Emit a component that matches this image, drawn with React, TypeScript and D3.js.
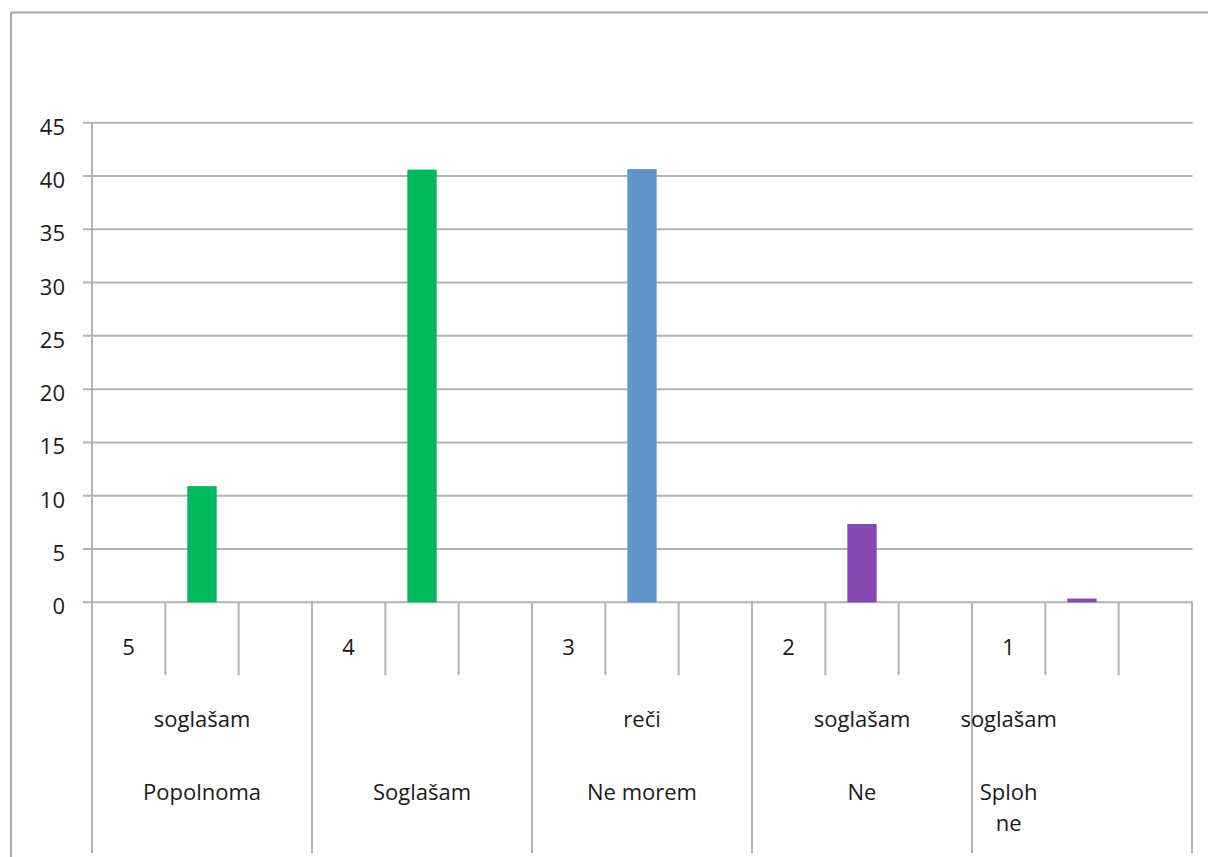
import React from "react";
import * as d3 from "d3";

const groupCodes = ["5", "4", "3", "2", "1"];
const topLabels = ["soglašam", "", "reči", "soglašam", "soglašam"];
const mainLabels = [["Popolnoma"], ["Soglašam"], ["Ne morem"], ["Ne"], ["Sploh", "ne"]];
const labelSlot = [1, 4, 7, 10, 12];
const barValues = [10.9, 40.6, 40.65, 7.35, 0.35];
const barColors = ["#00B85C", "#00B85C", "#6096CA", "#8547B0", "#8547B0"];
const yTicks = [0, 5, 10, 15, 20, 25, 30, 35, 40, 45];
const slotsPerGroup = 3;

const W = 1208;
const H = 857;
const FONT = "'Open Sans', 'DejaVu Sans', sans-serif";
const GRID = "#B3B3B3";

export default function App() {
  const nSlots = groupCodes.length * slotsPerGroup;
  const slots = d3.range(nSlots).map(String);
  const x = d3.scaleBand<string>().domain(slots).range([92, 1192]).padding(0);
  const y = d3.scaleLinear().domain([0, 45]).range([602.3, 122.7]);
  const bw = x.bandwidth();
  const barW = bw * 0.4;
  const y0 = y(0);

  return (
    <svg width={W} height={H} style={{ position: "absolute", left: 0, top: 0, background: "#fff" }}>
      {/* outer chart border (cropped) */}
      <line x1={11} x2={W} y1={12.5} y2={12.5} stroke="#A6A6A6" strokeWidth={2} />
      <line x1={11} x2={11} y1={12.5} y2={H} stroke="#A6A6A6" strokeWidth={2} />

      {/* gridlines + y ticks */}
      {yTicks.map((t) => (
        <g key={t}>
          <line x1={83} x2={1192.5} y1={y(t)} y2={y(t)} stroke={GRID} strokeWidth={2} />
          <text
            x={65}
            y={y(t) + 12}
            textAnchor="end"
            fontFamily={FONT}
            fontSize={22}
            fill="#1a1a1a"
          >
            {t}
          </text>
        </g>
      ))}

      {/* y axis */}
      <line x1={92} x2={92} y1={122.7} y2={853} stroke={GRID} strokeWidth={2} />

      {/* bars */}
      {barValues.map((v, i) => {
        const slot = String(i * slotsPerGroup + 1);
        const cx = (x(slot) as number) + bw / 2;
        return (
          <rect
            key={i}
            x={cx - barW / 2}
            y={y(v)}
            width={barW}
            height={y0 - y(v)}
            fill={barColors[i]}
          />
        );
      })}

      {/* category dividers */}
      {d3.range(nSlots + 1).map((k) => {
        const xx = k === nSlots ? x.range()[1] : (x(String(k)) as number);
        if (k === 0) return null;
        const isGroup = k % slotsPerGroup === 0;
        return (
          <line
            key={k}
            x1={xx}
            x2={xx}
            y1={y0}
            y2={isGroup ? 853 : 675}
            stroke={GRID}
            strokeWidth={2}
          />
        );
      })}

      {/* level 1 labels */}
      {groupCodes.map((c, i) => {
        const slot = String(i * slotsPerGroup);
        const cx = (x(slot) as number) + bw / 2;
        return (
          <text key={c} x={cx} y={655} textAnchor="middle" fontFamily={FONT} fontSize={22} fill="#1a1a1a">
            {c}
          </text>
        );
      })}

      {/* level 2 labels */}
      {groupCodes.map((c, i) => {
        const cx = (x(String(labelSlot[i])) as number) + bw / 2;
        return (
          <g key={"l" + c}>
            {topLabels[i] && (
              <text x={cx} y={727} textAnchor="middle" fontFamily={FONT} fontSize={22} fill="#1a1a1a">
                {topLabels[i]}
              </text>
            )}
            {mainLabels[i].map((ln, j) => (
              <text
                key={j}
                x={cx}
                y={800 + j * 31}
                textAnchor="middle"
                fontFamily={FONT}
                fontSize={22}
                fill="#1a1a1a"
              >
                {ln}
              </text>
            ))}
          </g>
        );
      })}
    </svg>
  );
}
